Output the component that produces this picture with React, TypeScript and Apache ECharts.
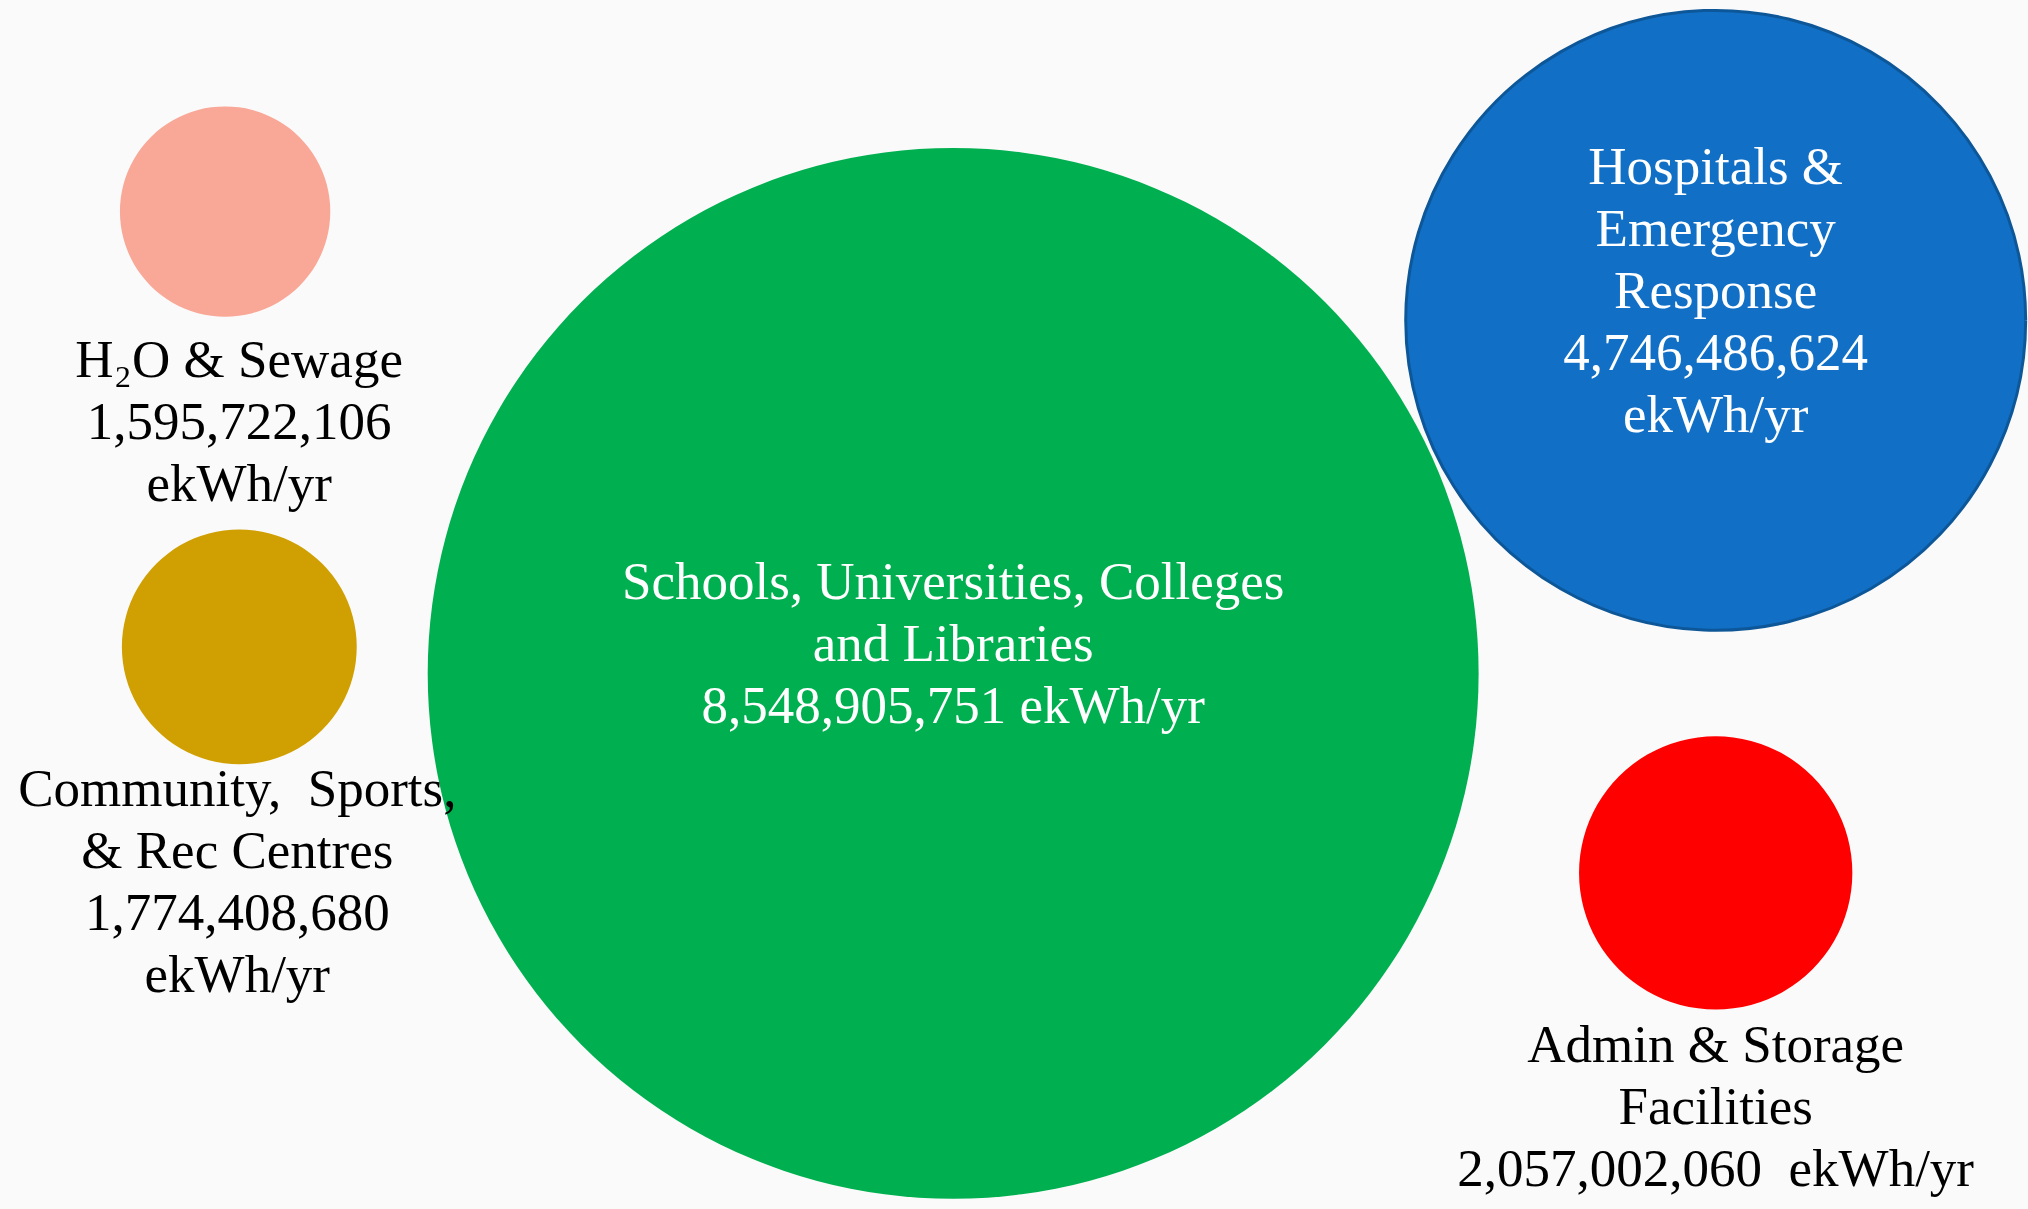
import React, { useEffect, useRef } from "react";
import * as echarts from "echarts";

// Categories (label lines) and values (ekWh/yr)
const categories: string[] = [
  "H₂O & Sewage",
  "Community,  Sports,\n& Rec Centres",
  "Schools, Universities, Colleges\nand Libraries",
  "Hospitals &\nEmergency\nResponse",
  "Admin & Storage\nFacilities",
];
const energyValues: number[] = [1595722106, 1774408680, 8548905751, 4746486624, 2057002060];
const valueLabels: string[] = [
  "1,595,722,106\nekWh/yr",
  "1,774,408,680\nekWh/yr",
  "8,548,905,751 ekWh/yr",
  "4,746,486,624\nekWh/yr",
  "2,057,002,060  ekWh/yr",
];
// bubble chart x / y positions (abstract 0-100 units)
const xValues: number[] = [11.1, 11.8, 47.0, 84.6, 84.6];
const yValues: number[] = [82.5, 46.5, 44.3, 73.5, 27.8];

const colors = ["#F9A797", "#D09F02", "#00B050", "#1170C6", "#FF0000"];
const FONT = "'Liberation Serif', 'DejaVu Serif', serif";

// bubble radius scale (px) as a smooth function of value in billions
const sizeOf = (v: number) => {
  const b = v / 1e9;
  const r = 105.2 + 65.0 * (b - 1.596) - 1.198 * (b - 1.596) * (b - 4.746);
  return 2 * r;
};

const labelCfg: any[] = [
  { position: "bottom", distance: 11, offset: [14, 0], color: "#000" },
  { position: "bottom", distance: -7, offset: [-2, 0], color: "#000" },
  { position: "inside", offset: [0, -30], color: "#fff", fontSize: 53 },
  { position: "inside", offset: [0, -30], color: "#fff", fontSize: 53 },
  { position: "bottom", distance: 3, offset: [0, 0], color: "#000" },
];

export default function App() {
  const ref = useRef<HTMLDivElement>(null);
  useEffect(() => {
    if (!ref.current) return;
    const chart = echarts.init(ref.current, undefined, { renderer: "svg" });
    const data = categories.map((c, i) => ({
      name: c,
      value: [xValues[i], yValues[i], energyValues[i]],
      itemStyle:
        i === 3
          ? { color: colors[i], borderColor: "#0D5799", borderWidth: 3, opacity: 1 }
          : { color: colors[i], opacity: 1 },
      label: {
        show: true,
        formatter: () => c + "\n" + valueLabels[i],
        fontFamily: FONT,
        fontSize: 53,
        lineHeight: 62,
        align: "center",
        ...labelCfg[i],
      },
    }));
    chart.setOption({
      animation: false,
      backgroundColor: "#FAFAFA",
      grid: { left: 0, right: 0, top: 0, bottom: 0, containLabel: false },
      xAxis: { type: "value", min: 0, max: 100, show: false },
      yAxis: { type: "value", min: 0, max: 100, show: false },
      series: [
        {
          type: "scatter",
          symbol: "circle",
          symbolSize: (val: number[]) => sizeOf(val[2]),
          data,
          emphasis: { disabled: true },
        },
      ],
    });
    return () => chart.dispose();
  }, []);
  return (
    <div
      ref={ref}
      style={{ position: "fixed", left: 0, top: 0, width: 2028, height: 1209 }}
    />
  );
}
